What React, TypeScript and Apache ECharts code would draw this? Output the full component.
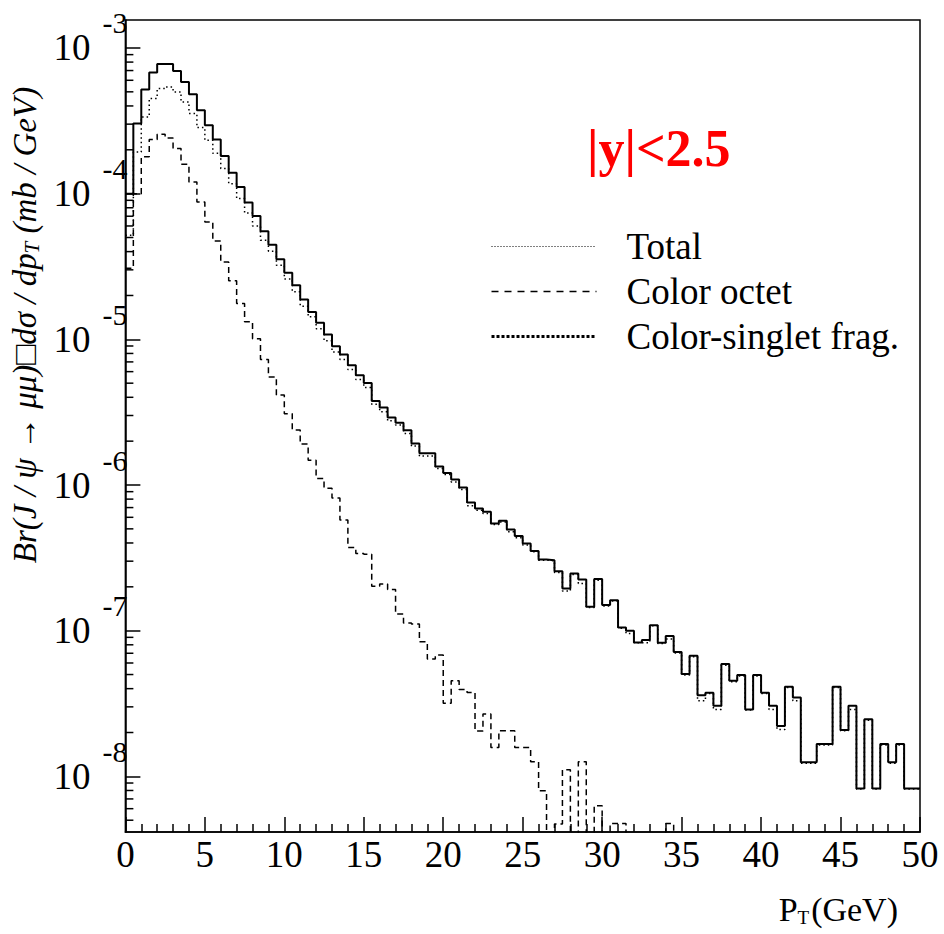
import React, { useEffect, useRef } from "react";
import * as echarts from "echarts";

// ---- data (0.5 GeV bins from 0 to 50 GeV) ----
const BIN_WIDTH = 0.5;

// solid histogram (upper curve)
const SOLID = [
  1.00e-4, 3.03e-4, 5.18e-4, 6.78e-4, 7.77e-4, 7.77e-4, 6.95e-4, 5.84e-4, 4.81e-4, 3.74e-4,
  2.95e-4, 2.35e-4, 1.81e-4, 1.39e-4, 1.11e-4, 8.69e-5, 7.03e-5, 5.52e-5, 4.46e-5, 3.55e-5,
  2.86e-5, 2.35e-5, 1.88e-5, 1.54e-5, 1.30e-5, 1.08e-5, 8.97e-6, 7.87e-6, 6.65e-6, 5.67e-6,
  5.02e-6, 3.78e-6, 3.41e-6, 2.91e-6, 2.67e-6, 2.38e-6, 1.93e-6, 1.65e-6, 1.65e-6, 1.34e-6,
  1.21e-6, 1.09e-6, 9.62e-7, 7.59e-7, 6.90e-7, 6.54e-7, 5.45e-7, 5.68e-7, 4.95e-7, 4.46e-7,
  3.97e-7, 3.53e-7, 3.08e-7, 3.05e-7, 2.56e-7, 1.95e-7, 2.47e-7, 2.25e-7, 1.46e-7, 2.26e-7,
  1.50e-7, 1.62e-7, 1.05e-7, 9.98e-8, 8.31e-8, 8.62e-8, 1.09e-7, 8.26e-8, 9.18e-8, 7.13e-8,
  5.04e-8, 6.72e-8, 3.61e-8, 3.75e-8, 3.05e-8, 5.90e-8, 4.53e-8, 4.96e-8, 2.88e-8, 4.96e-8,
  3.75e-8, 3.05e-8, 2.22e-8, 4.12e-8, 3.48e-8, 1.25e-8, 1.25e-8, 1.67e-8, 1.67e-8, 4.12e-8,
  2.08e-8, 3.05e-8, 8.27e-9, 2.47e-8, 8.27e-9, 1.67e-8, 1.25e-8, 1.67e-8, 8.27e-9, 8.27e-9,
];

// thin dotted histogram ("Total")
const TOTAL = [
  5.18e-5, 1.93e-4, 3.36e-4, 4.50e-4, 5.26e-4, 5.40e-4, 4.99e-4, 4.26e-4, 3.55e-4, 2.84e-4,
  2.33e-4, 1.89e-4, 1.49e-4, 1.17e-4, 9.26e-5, 7.37e-5, 6.00e-5, 4.79e-5, 4.03e-5, 3.23e-5,
  2.59e-5, 2.12e-5, 1.69e-5, 1.43e-5, 1.18e-5, 9.76e-6, 8.20e-6, 7.27e-6, 6.21e-6, 5.30e-6,
  4.67e-6, 3.59e-6, 3.18e-6, 2.76e-6, 2.58e-6, 2.26e-6, 1.85e-6, 1.58e-6, 1.58e-6, 1.30e-6,
  1.18e-6, 1.05e-6, 9.32e-7, 7.19e-7, 6.72e-7, 6.38e-7, 5.36e-7, 5.58e-7, 4.77e-7, 4.34e-7,
  3.88e-7, 3.48e-7, 3.05e-7, 3.02e-7, 2.51e-7, 1.87e-7, 2.43e-7, 2.11e-7, 1.44e-7, 2.22e-7,
  1.48e-7, 1.60e-7, 1.04e-7, 9.58e-8, 8.26e-8, 8.26e-8, 1.08e-7, 8.18e-8, 8.76e-8, 7.02e-8,
  4.96e-8, 6.62e-8, 3.30e-8, 3.71e-8, 2.88e-8, 5.80e-8, 4.46e-8, 4.88e-8, 2.85e-8, 4.88e-8,
  3.71e-8, 2.88e-8, 2.10e-8, 4.08e-8, 3.30e-8, 1.23e-8, 1.23e-8, 1.64e-8, 1.64e-8, 4.08e-8,
  2.06e-8, 2.88e-8, 8.18e-9, 2.43e-8, 8.18e-9, 1.64e-8, 1.23e-8, 1.64e-8, 8.18e-9, 8.18e-9,
];

// dashed histogram ("Color octet"); 1e-9 = bin below the visible range
const OCTET = [
  3.08e-5, 1.00e-4, 1.79e-4, 2.35e-4, 2.56e-4, 2.41e-4, 2.04e-4, 1.59e-4, 1.20e-4, 8.77e-5,
  6.40e-5, 4.74e-5, 3.40e-5, 2.52e-5, 1.76e-5, 1.32e-5, 1.01e-5, 7.28e-6, 5.52e-6, 4.14e-6,
  3.08e-6, 2.39e-6, 1.91e-6, 1.48e-6, 1.11e-6, 9.51e-7, 8.13e-7, 5.74e-7, 3.73e-7, 3.39e-7,
  3.35e-7, 2.02e-7, 2.09e-7, 1.92e-7, 1.30e-7, 1.13e-7, 1.11e-7, 8.39e-8, 6.38e-8, 6.80e-8,
  3.17e-8, 4.53e-8, 3.95e-8, 3.77e-8, 2.05e-8, 2.68e-8, 1.58e-8, 2.06e-8, 2.06e-8, 1.58e-8,
  1.58e-8, 1.26e-8, 7.96e-9, 1e-9, 4.71e-9, 1.11e-8, 1e-9, 1.26e-8, 1e-9, 6.29e-9,
  1e-9, 4.75e-9, 4.75e-9, 1e-9, 1e-9, 1e-9, 1e-9, 1e-9, 4.75e-9, 1e-9,
  1e-9, 1e-9, 1e-9, 1e-9, 1e-9, 1e-9, 1e-9, 1e-9, 1e-9, 1e-9,
  1e-9, 1e-9, 1e-9, 1e-9, 1e-9, 1e-9, 1e-9, 1e-9, 1e-9, 1e-9,
  1e-9, 1e-9, 1e-9, 1e-9, 1e-9, 1e-9, 1e-9, 1e-9, 1e-9, 1e-9,
];

// thick dotted ("Color-singlet frag.") is not visible in the frame
const SINGLET: number[] = [];

const LEGEND_NAMES = ["Total", "Color octet", "Color-singlet frag."];
const X_MIN = 0;
const X_MAX = 50;
const X_INTERVAL = 5;
const Y_MIN = 4.15e-9;
const Y_MAX = 1.556e-3;
const DECADES = [-9, -8, -7, -6, -5, -4, -3];
const MINOR_MULT = [2, 3, 4, 5, 6, 7, 8, 9];

const FONT = "'Liberation Serif', 'Times New Roman', serif";

function histPoints(values: number[]) {
  const pts: number[][] = values.map((v, i) => [i * BIN_WIDTH, v]);
  if (values.length) pts.push([values.length * BIN_WIDTH, values[values.length - 1]]);
  return pts;
}

function minorTickValues() {
  const out: number[][] = [];
  DECADES.forEach((d) => {
    MINOR_MULT.forEach((m) => {
      const v = m * Math.pow(10, d);
      if (v >= Y_MIN && v <= Y_MAX) out.push([0, v]);
    });
  });
  return out;
}

export default function App() {
  const ref = useRef<HTMLDivElement>(null);

  useEffect(() => {
    if (!ref.current) return;
    const chart = echarts.init(ref.current, null, { renderer: "svg" });

    const option: any = {
      animation: false,
      backgroundColor: "#ffffff",
      title: {
        text: "|y|<2.5",
        left: 587,
        top: 122,
        padding: 0,
        textStyle: {
          color: "#ff0000",
          fontSize: 52,
          fontWeight: "bold",
          fontFamily: FONT,
        },
      },
      legend: {
        orient: "vertical",
        left: 490,
        top: 228,
        padding: 0,
        itemWidth: 105,
        itemHeight: 12,
        itemGap: 8,
        selectedMode: false,
        itemStyle: { opacity: 0 },
        textStyle: {
          fontFamily: FONT,
          fontSize: 37,
          color: "#000",
          padding: [0, 0, 0, 25],
        },
        data: [
          { name: LEGEND_NAMES[0], lineStyle: { color: "#000", width: 1, type: [1, 2] } },
          { name: LEGEND_NAMES[1], lineStyle: { color: "#000", width: 1.5, type: [7, 6] } },
          { name: LEGEND_NAMES[2], lineStyle: { color: "#000", width: 3, type: [3, 2] } },
        ],
      },
      grid: {
        left: 122,
        top: 20,
        width: 798,
        height: 812,
        show: true,
        borderColor: "#000",
        borderWidth: 1.5,
        backgroundColor: "transparent",
      },
      xAxis: {
        type: "value",
        min: X_MIN,
        max: X_MAX,
        interval: X_INTERVAL,
        name: "{m|P}{s|T}{m|(GeV)}",
        nameLocation: "end",
        nameGap: -22,
        nameTextStyle: {
          align: "right",
          verticalAlign: "top",
          padding: [60, 0, 0, 0],
          fontFamily: FONT,
          color: "#000",
          rich: {
            m: { fontFamily: FONT, fontSize: 34, color: "#000" },
            s: { fontFamily: FONT, fontSize: 19, color: "#000", padding: [16, 2, 0, 0] },
          },
        },
        axisLine: { lineStyle: { color: "#000", width: 1.5 } },
        axisTick: { inside: true, length: 15, lineStyle: { color: "#000", width: 1.5 } },
        minorTick: { show: true, splitNumber: 5, length: 8, lineStyle: { color: "#000", width: 1.5 } },
        axisLabel: { fontFamily: FONT, fontSize: 37, color: "#000", margin: 4 },
        splitLine: { show: false },
      },
      yAxis: {
        type: "log",
        logBase: 10,
        min: Y_MIN,
        max: Y_MAX,
        name: "{m|Br(J / ψ → μμ)□dσ / dp}{s|T}{m| (mb / GeV)}",
        nameLocation: "middle",
        nameGap: 67,
        nameTextStyle: {
          fontFamily: FONT,
          fontStyle: "italic",
          color: "#000",
          padding: [0, 0, 0, 202],
          rich: {
            m: { fontFamily: FONT, fontStyle: "italic", fontSize: 33, color: "#000" },
            s: { fontFamily: FONT, fontStyle: "italic", fontSize: 21, color: "#000", padding: [15, 0, 0, 0] },
          },
        },
        axisLine: { lineStyle: { color: "#000", width: 1.5 } },
        axisTick: { inside: true, length: 15, lineStyle: { color: "#000", width: 1.5 } },
        axisLabel: {
          showMinLabel: false,
          showMaxLabel: false,
          margin: -2,
          formatter: (v: number) => {
            const l = Math.log10(v);
            const e = Math.round(l);
            if (Math.abs(l - e) > 1e-6) return "";
            return "{b|10}{e|" + (e < 0 ? "-" + -e : String(e)) + "}";
          },
          rich: {
            b: { fontFamily: FONT, fontSize: 37, color: "#000" },
            e: { fontFamily: FONT, fontSize: 30, color: "#000", padding: [0, 0, 50, 12] },
          },
        },
        splitLine: { show: false },
        minorTick: { show: false },
      },
      series: [
        {
          name: "Sum",
          type: "line",
          step: "end",
          symbol: "none",
          data: histPoints(SOLID),
          lineStyle: { color: "#000", width: 2 },
          z: 4,
        },
        {
          name: LEGEND_NAMES[0],
          type: "line",
          step: "end",
          symbol: "none",
          data: histPoints(TOTAL),
          lineStyle: { color: "#000", width: 1.5, type: [1.5, 3] },
          itemStyle: { color: "#000" },
          z: 3,
        },
        {
          name: LEGEND_NAMES[1],
          type: "line",
          step: "end",
          symbol: "none",
          data: histPoints(OCTET),
          lineStyle: { color: "#000", width: 1.5, type: [6, 4] },
          itemStyle: { color: "#000" },
          z: 3,
        },
        {
          name: LEGEND_NAMES[2],
          type: "line",
          step: "end",
          symbol: "none",
          data: histPoints(SINGLET),
          lineStyle: { color: "#000", width: 3, type: [3, 2] },
          itemStyle: { color: "#000" },
        },
        {
          name: "minorTicks",
          type: "custom",
          silent: true,
          z: 6,
          encode: { x: 0, y: 1 },
          data: minorTickValues(),
          renderItem: (_p: any, api: any) => {
            const p = api.coord([0, api.value(1)]);
            return {
              type: "line",
              shape: { x1: p[0], y1: p[1], x2: p[0] + 8, y2: p[1] },
              style: { stroke: "#000", lineWidth: 1.5 },
            };
          },
        },
      ],
    };

    chart.setOption(option);
    return () => chart.dispose();
  }, []);

  return (
    <div
      ref={ref}
      style={{ position: "fixed", left: 0, top: 0, width: 944, height: 934, background: "#fff" }}
    />
  );
}
